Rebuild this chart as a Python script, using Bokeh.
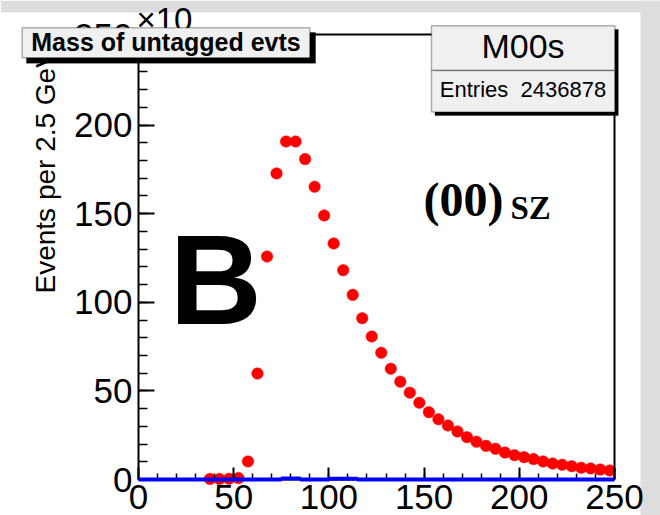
import math
from bokeh.plotting import figure
from bokeh.models import (Range1d, SingleIntervalTicker, FixedTicker, Label,
                          BoxAnnotation, LinearAxis)
from bokeh.embed import file_html
from bokeh.resources import INLINE

# ---------------- data ----------------
red_mass = [37.5, 42.5, 47.5, 52.5, 57.5, 62.5, 67.5, 72.5, 77.5, 82.5,
            87.5, 92.5, 97.5, 102.5, 107.5, 112.5, 117.5, 122.5, 127.5, 132.5,
            137.5, 142.5, 147.5, 152.5, 157.5, 162.5, 167.5, 172.5, 177.5, 182.5,
            187.5, 192.5, 197.5, 202.5, 207.5, 212.5, 217.5, 222.5, 227.5, 232.5,
            237.5, 242.5, 247.5]
red_events = [0.3, 0.3, 0.4, 0.8, 10.2, 59.8, 125.8, 172.7, 190.7, 190.7,
              180.8, 165.2, 149.0, 133.2, 118.1, 104.2, 91.0, 80.7, 71.5, 62.5,
              55.2, 49.0, 43.3, 38.0, 34.0, 30.5, 27.1, 23.9, 21.3, 19.0,
              17.3, 15.2, 13.7, 12.6, 11.5, 10.2, 9.0, 8.3, 7.5, 6.6,
              6.2, 5.6, 5.1]

blue_edges = [0, 5, 10, 15, 20, 25, 30, 35, 40, 45, 50, 55, 60, 65, 70, 75, 80,
              85, 90, 95, 100, 105, 110, 115, 120, 125, 130, 135, 140, 145, 150,
              155, 160, 165, 170, 175, 180, 185, 190, 195, 200, 205, 210, 215,
              220, 225, 230, 235, 240, 245, 250]
blue_events = [0, 0, 0, 0, 0, 0, 0, 0, 0, 0, 0, 0, 0, 0, 0, 0.5, 0.5, 0, 0, 0,
               0.4, 0.4, 0.4, 0, 0, 0, 0, 0, 0, 0, 0, 0, 0, 0, 0, 0, 0, 0, 0, 0,
               0, 0, 0, 0, 0, 0, 0, 0, 0, 0]

title_text = "Mass of untagged evts"
stats_name = "M00s"
stats_entries = "Entries \u00a02436878"
y_title = "Events per 2.5 GeV"
exponent_text = "\u00d710"
panel_letter = "B"
channel_main = "(00)"
channel_sub = "SZ"

# ---------------- geometry (pixels of the 660x515 canvas) ----------------
XMIN, XMAX = 0.0, 250.0
YMIN, YMAX = 0.0, 251.1
W, H = 660, 515
FL, FR, FT, FB = 138.0, 614.0, 34.0, 479.0   # ROOT frame edges in pixels
KX = (FR - FL) / (XMAX - XMIN)
KY = (FB - FT) / (YMAX - YMIN)
BASE_SHIFT = 0.36   # rendered baseline sits this many font-sizes below the anchor


def dx(X):
    return XMIN + (X - FL) / KX


def dy(Y):
    return YMIN + (FB - Y) / KY


def text_label(X, Ybase, text, size, font="Liberation Sans", style="normal",
               align="left"):
    return Label(x=dx(X), y=dy(Ybase - BASE_SHIFT * size), text=text,
                 text_font=font, text_font_style=style,
                 text_font_size=f"{size}px", text_align=align,
                 text_baseline="alphabetic", text_color="black")


SANS = "Liberation Sans"
SERIF = "Liberation Serif"
GRAY = "#dddddd"
BOXFILL = "#f0f0f0"

p = figure(width=W, height=H, output_backend="svg", toolbar_location=None,
           x_range=Range1d(dx(0), dx(W)), y_range=Range1d(dy(H), dy(0)),
           x_axis_type=None, y_axis_type=None, title=None, min_border=0)
p.background_fill_color = "white"
p.border_fill_color = "white"
p.outline_line_color = None

# grey canvas margins (behind everything)
p.add_layout(BoxAnnotation(bottom=dy(12), fill_color=GRAY, fill_alpha=1,
                           line_color=None, level="underlay"))
p.add_layout(BoxAnnotation(left=dx(640), fill_color=GRAY, fill_alpha=1,
                           line_color=None, level="underlay"))

# ---------------- axes ----------------
xaxis = LinearAxis(fixed_location=YMIN, bounds=(XMIN, XMAX),
                   ticker=SingleIntervalTicker(interval=50, num_minor_ticks=5))
yaxis = LinearAxis(fixed_location=XMIN, bounds=(YMIN, YMAX),
                   ticker=SingleIntervalTicker(interval=50, num_minor_ticks=5))
for ax in (xaxis, yaxis):
    ax.major_tick_out = 0
    ax.minor_tick_out = 0
    ax.major_tick_line_width = 2
    ax.minor_tick_line_width = 1.5
    ax.major_tick_line_color = "black"
    ax.minor_tick_line_color = "black"
    ax.axis_line_color = "black"
    ax.axis_line_width = 2
    ax.major_label_text_font = SANS
    ax.major_label_text_font_size = "35px"
    ax.major_label_text_color = "black"
xaxis.major_tick_in = 12
xaxis.minor_tick_in = 6
xaxis.major_label_standoff = 5
yaxis.major_tick_in = 16
yaxis.minor_tick_in = 9
yaxis.major_label_standoff = 6
p.add_layout(xaxis, "below")
p.add_layout(yaxis, "left")

# frame top / right edges
top_edge = LinearAxis(fixed_location=YMAX, bounds=(XMIN, XMAX),
                      ticker=FixedTicker(ticks=[]), axis_line_width=2,
                      major_tick_line_color=None, minor_tick_line_color=None,
                      major_label_text_font_size="1px")
right_edge = LinearAxis(fixed_location=XMAX, bounds=(YMIN, YMAX),
                        ticker=FixedTicker(ticks=[]), axis_line_width=2,
                        major_tick_line_color=None, minor_tick_line_color=None,
                        major_label_text_font_size="1px")
p.add_layout(top_edge, "above")
p.add_layout(right_edge, "right")

# ---------------- data marks ----------------
p.scatter(x=red_mass, y=red_events, marker="circle", size=11.5,
          fill_color="#ff0000", line_color="#ff0000", line_width=0.5)
blue = p.step(x=blue_edges, y=blue_events + [blue_events[-1]], mode="after",
              line_color="#0000ff", line_width=4)
blue.level = "overlay"

# ---------------- texts & boxes ----------------
YT_SIZE = 28
p.add_layout(Label(x=dx(55 - BASE_SHIFT * YT_SIZE), y=dy(293), text=y_title,
                   angle=math.pi / 2, text_font=SANS,
                   text_font_size=f"{YT_SIZE}px", text_align="left",
                   text_baseline="alphabetic", text_color="black"))
p.add_layout(text_label(136, 30.5, exponent_text, 33))

# title box
p.add_layout(BoxAnnotation(left=dx(26), right=dx(315), top=dy(32), bottom=dy(62.7),
                           fill_color="black", fill_alpha=1, line_color="black",
                           line_width=1))
p.add_layout(BoxAnnotation(left=dx(21.7), right=dx(309.3), top=dy(27.3), bottom=dy(57.3),
                           fill_color=BOXFILL, fill_alpha=1, line_color="black",
                           line_width=1.5))
p.add_layout(text_label(165.5, 50.5, title_text, 25, style="bold", align="center"))

# stats box
p.add_layout(BoxAnnotation(left=dx(434.5), right=dx(617.8), top=dy(29), bottom=dy(115),
                           fill_color="black", fill_alpha=1, line_color="black",
                           line_width=1))
p.add_layout(BoxAnnotation(left=dx(431), right=dx(614.3), top=dy(25.3), bottom=dy(70),
                           fill_color=BOXFILL, fill_alpha=1, line_color="black",
                           line_width=1.5))
p.add_layout(BoxAnnotation(left=dx(431), right=dx(614.3), top=dy(70), bottom=dy(111.5),
                           fill_color=BOXFILL, fill_alpha=1, line_color="black",
                           line_width=1.5))
p.add_layout(text_label(522.5, 57.3, stats_name, 34, align="center"))
p.add_layout(text_label(522.5, 96.7, stats_entries, 22, align="center"))

# in-plot texts
p.add_layout(text_label(169, 325, panel_letter, 128, style="bold"))
p.add_layout(text_label(423, 216, channel_main, 48, font=SERIF, style="bold"))
p.add_layout(text_label(510, 219.5, channel_sub, 33, font=SERIF, style="bold"))

open("out.html", "w").write(file_html(p, INLINE))
